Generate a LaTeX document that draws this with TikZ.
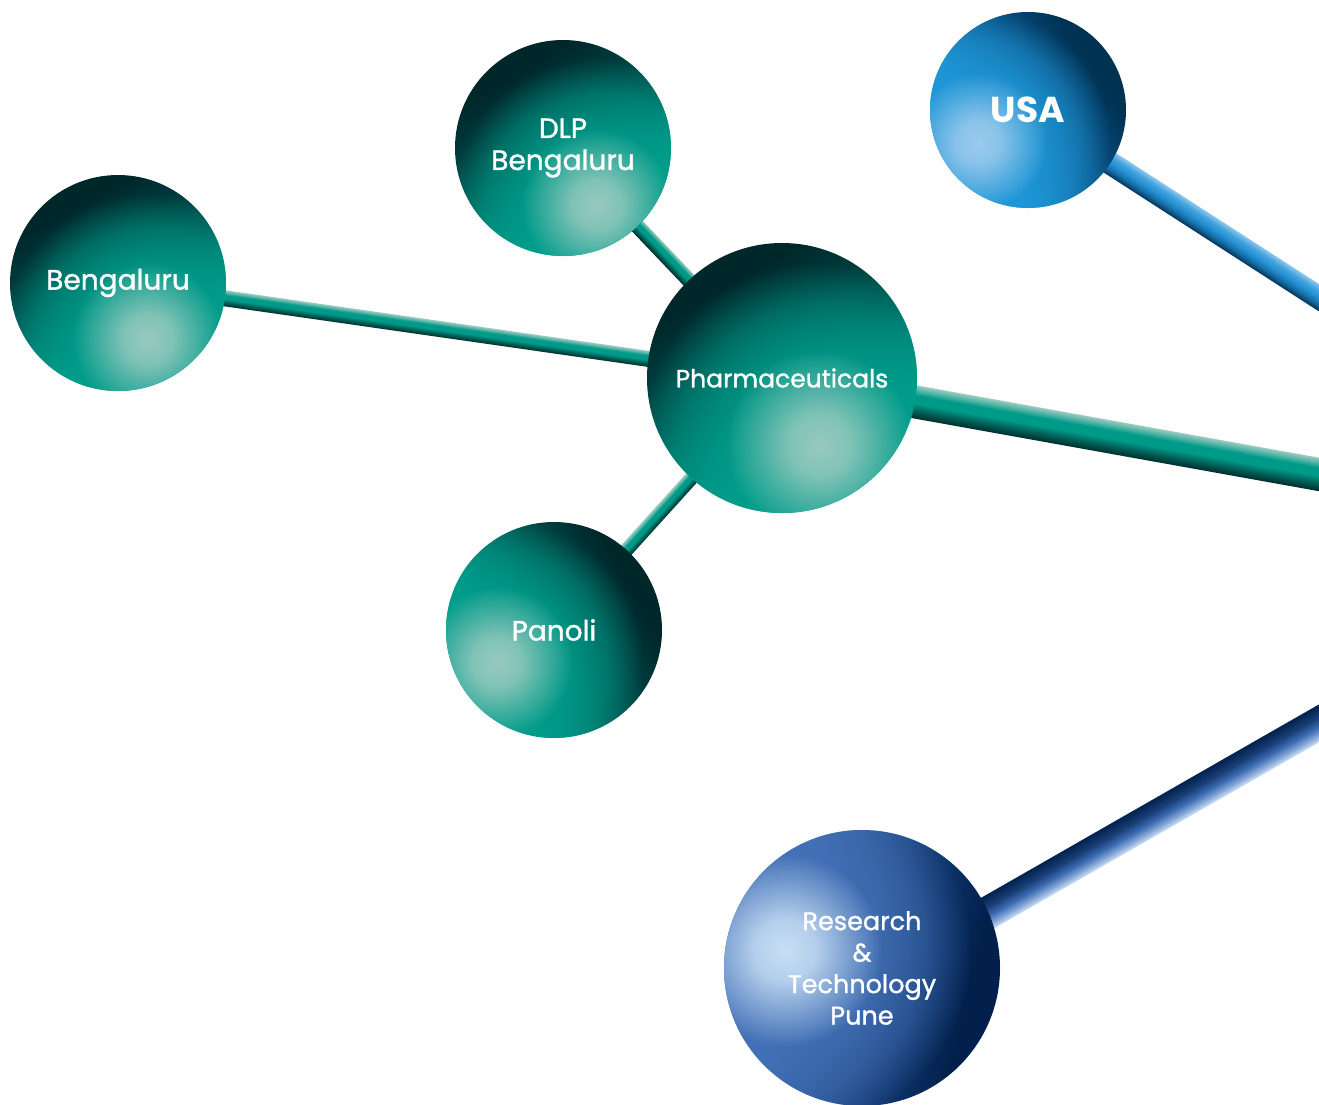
\documentclass[tikz,border=0pt]{standalone}
\usepackage{fontspec}
\setmainfont{Poppins}
\newfontfamily\lbl{Poppins}[FakeBold=1.2]
\usetikzlibrary{calc,fadings}
\pgfdeclarelayer{bg}
\pgfdeclarelayer{balls}
\pgfsetlayers{bg,balls,main}
% teal palette
\definecolor{tpale}{HTML}{98CABF}
\definecolor{tmid}{HTML}{009C8A}
\definecolor{tdm}{HTML}{005A54}
\definecolor{tdk}{HTML}{003A3B}
\definecolor{tdark}{HTML}{00282B}
% usa palette
\definecolor{upale}{HTML}{9CCBEE}
\definecolor{umid}{HTML}{1E96D6}
\definecolor{udm}{HTML}{0E6096}
\definecolor{udk}{HTML}{05426E}
\definecolor{udark}{HTML}{003252}
% r&t palette
\definecolor{rpale}{HTML}{C8E0F6}
\definecolor{rmid}{HTML}{4270B6}
\definecolor{rdm}{HTML}{214A86}
\definecolor{rdk}{HTML}{0B3064}
\definecolor{rdark}{HTML}{02204B}
% connector colours
\definecolor{clt}{HTML}{9ACBC0}
\definecolor{cmt}{HTML}{009A88}
\definecolor{cdt}{HTML}{012D2C}
\definecolor{clu}{HTML}{8CC8EF}
\definecolor{cmu}{HTML}{2391D4}
\definecolor{cdu}{HTML}{00345A}
\definecolor{clr}{HTML}{D2E4FA}
\definecolor{cmr}{HTML}{3E6DB4}
\definecolor{cdr}{HTML}{02224F}
\definecolor{panel}{HTML}{FEFEFE}
% sphere base shadings (bottom = side of the highlight)
\pgfdeclareverticalshading{tbase}{100bp}{color(0bp)=(tmid); color(36bp)=(tmid); color(52bp)=(tdm); color(62bp)=(tdk); color(70bp)=(tdark); color(100bp)=(tdark)}
\pgfdeclareverticalshading{ubase}{100bp}{color(0bp)=(umid); color(36bp)=(umid); color(52bp)=(udm); color(62bp)=(udk); color(70bp)=(udark); color(100bp)=(udark)}
\pgfdeclareverticalshading{rbase}{100bp}{color(0bp)=(rmid); color(36bp)=(rmid); color(52bp)=(rdm); color(62bp)=(rdk); color(70bp)=(rdark); color(100bp)=(rdark)}
% connector shadings (25bp = lower edge, 75bp = upper edge)
\pgfdeclareverticalshading{tconn}{100bp}{color(0bp)=(cdt); color(25bp)=(cdt); color(36bp)=(cdt!55!cmt); color(48bp)=(cmt); color(60bp)=(cmt); color(67bp)=(cmt!50!clt); color(75bp)=(clt); color(100bp)=(clt)}
\pgfdeclareverticalshading{uconn}{100bp}{color(0bp)=(cdu); color(25bp)=(cdu); color(37bp)=(cdu!40!cmu); color(50bp)=(cmu); color(62bp)=(cmu!70!clu); color(75bp)=(clu); color(100bp)=(clu)}
\pgfdeclareverticalshading{rconn}{100bp}{color(0bp)=(clr); color(25bp)=(clr); color(34bp)=(cmr!50!clr); color(45bp)=(cmr); color(58bp)=(cdr!60!cmr); color(75bp)=(cdr); color(100bp)=(cdr)}
% soft glow fadings
\pgfdeclareradialshading{glowshade}{\pgfpointorigin}{color(0bp)=(transparent!0); color(8bp)=(transparent!15); color(17bp)=(transparent!60); color(25bp)=(transparent!100); color(50bp)=(transparent!100)}
\pgfdeclarefading{glow}{\pgfuseshading{glowshade}}
\pgfdeclareradialshading{wideshade}{\pgfpointorigin}{color(0bp)=(transparent!0); color(11bp)=(transparent!10); color(19bp)=(transparent!50); color(25bp)=(transparent!100); color(50bp)=(transparent!100)}
\pgfdeclarefading{wideglow}{\pgfuseshading{wideshade}}
\tikzset{
  orb/.style={circle, inner sep=0pt, outer sep=0pt, text=white, align=center,
    font=\lbl\fontsize{28}{32}\selectfont},
}
% sphere shading: node, radius, highlight dx, dy, shading angle, palette
\newcommand\orbfx[6]{%
  \begin{pgfonlayer}{balls}
    \begin{scope}
      \clip (#1.center) circle[radius=#2pt];
      \shade[shading=#6base, shading angle=#5] (#1.center) circle[radius=#2pt];
      \fill[#6mid, path fading=wideglow] ($(#1.center)+(#3,#4)$) circle[radius=1.35*#2pt];
      \fill[#6pale, path fading=glow] ($(#1.center)+(#3,#4)$) circle[radius=0.7*#2pt];
    \end{scope}
  \end{pgfonlayer}}
% connector: from, to, half width (pt), shading
\newcommand\conn[4]{%
  \path let \p1=(#1), \p2=(#2) in \pgfextra{%
    \pgfmathsetmacro\cang{atan2(\y2-\y1,\x2-\x1)}%
    \pgfmathsetmacro\clen{veclen(\x2-\x1,\y2-\y1)}%
    \xdef\cang{\cang}\xdef\clen{\clen}\xdef\cxa{\x1}\xdef\cya{\y1}};
  \begin{scope}[transform canvas={shift={(\cxa,\cya)},rotate=\cang}]
    \shade[shading=#4] (0pt,-#3pt) rectangle (\clen pt,#3pt);
  \end{scope}}
\begin{document}
\begin{tikzpicture}[x=1pt,y=-1pt]
\useasboundingbox (0,0) rectangle (1319,1104);
\node[orb, minimum size=216pt] (beng) at (118,283) {Bengaluru};
\node[orb, minimum size=216pt] (dlp) at (563,148) {DLP\\Bengaluru};
\node[orb, minimum size=270pt, font=\lbl\fontsize{25}{30}\selectfont] (pharma) at (782,378) {Pharmaceuticals};
\node[orb, minimum size=216pt] (panoli) at (554,630) {Panoli};
\node[orb, minimum size=196pt, font=\fontsize{36}{40}\selectfont\bfseries] (usa) at (1028,110) {USA};
\node[orb, minimum size=276pt, font=\lbl\fontsize{25.5}{31.5}\selectfont] (rt) at (862,968) {Research\\\&\\Technology\\Pune};
\orbfx{beng}{108}{30}{56}{28}{t}
\orbfx{dlp}{108}{34}{57}{31}{t}
\orbfx{pharma}{135}{38}{67}{30}{t}
\orbfx{panoli}{108}{-57}{32}{-60}{t}
\orbfx{usa}{98}{-50}{32}{-57}{u}
\orbfx{rt}{138}{-77}{-18}{-103}{r}
\coordinate (pend) at (1400,489);
\coordinate (uend) at (1400,350);
\coordinate (rend) at (1400,677);
\begin{pgfonlayer}{bg}
  \fill[panel] (177,0) rectangle (1319,585);
  \conn{beng}{pharma}{8}{tconn}
  \conn{dlp}{pharma}{7.5}{tconn}
  \conn{panoli}{pharma}{7}{tconn}
  \conn{pharma}{pend}{16.5}{tconn}
  \conn{usa}{uend}{11.5}{uconn}
  \conn{[yshift=-17pt]rt.center}{rend}{16.5}{rconn}
\end{pgfonlayer}
\end{tikzpicture}
\end{document}
